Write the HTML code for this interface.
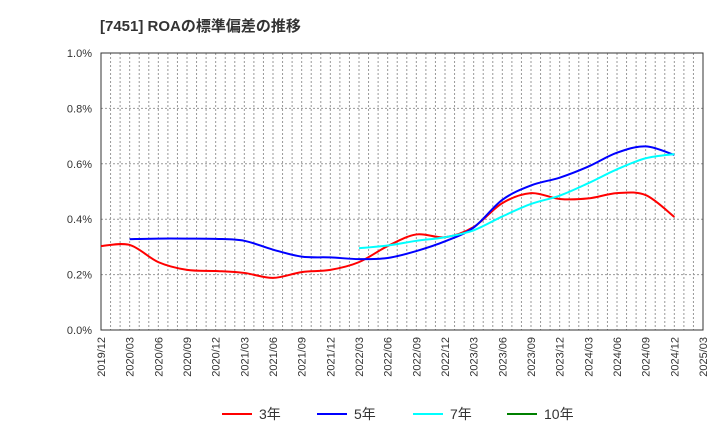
<!DOCTYPE html>
<html><head><meta charset="utf-8"><style>
body{margin:0;background:#fff;font-family:"Liberation Sans","Noto Sans CJK JP",sans-serif;}
</style></head><body>
<svg width="720" height="440" xmlns="http://www.w3.org/2000/svg">
<text x="100" y="31" font-size="15" font-weight="bold" fill="#333" font-family="Liberation Sans, Noto Sans CJK JP, sans-serif">[7451]  ROAの標準偏差の推移</text>
<g id="grid"></g><g id="axes"></g><g id="series"></g><g id="legend"></g>
</svg>
<script>
const xLabels=["2019/12","2020/03","2020/06","2020/09","2020/12","2021/03","2021/06","2021/09","2021/12","2022/03","2022/06","2022/09","2022/12","2023/03","2023/06","2023/09","2023/12","2024/03","2024/06","2024/09","2024/12","2025/03"];
const yTicks=[0,0.2,0.4,0.6,0.8,1.0];
const s3=[0.303,0.307,0.245,0.217,0.213,0.206,0.188,0.209,0.217,0.245,0.303,0.345,0.335,0.372,0.458,0.494,0.473,0.475,0.494,0.487,0.408];
const s5=[null,0.328,0.33,0.33,0.329,0.322,0.29,0.265,0.262,0.256,0.26,0.285,0.32,0.37,0.47,0.522,0.55,0.59,0.64,0.663,0.632];
const s7=[null,null,null,null,null,null,null,null,null,0.295,0.305,0.322,0.335,0.36,0.41,0.455,0.485,0.53,0.58,0.62,0.635];
const s10=[];
const X0=101,X1=703,Y0=330,Y1=53;
const xs=i=>X0+(X1-X0)*i/21;
const ys=v=>Y0-(Y0-Y1)*v/1.0;
const NS="http://www.w3.org/2000/svg";
function mk(t,a,p){const e=document.createElementNS(NS,t);for(const k in a)e.setAttribute(k,a[k]);p.appendChild(e);return e;}
const grid=document.getElementById('grid'),axes=document.getElementById('axes'),ser=document.getElementById('series'),leg=document.getElementById('legend');
for(let m=1;m<63;m++){const x=X0+(X1-X0)*m/63;const l=mk('line',{x1:x,x2:x,y1:Y1,y2:Y0,stroke:'#999','stroke-dasharray':'2,2','stroke-width':1},grid);

}
yTicks.forEach(v=>{const y=ys(v);const l=mk('line',{x1:X0,x2:X1,y1:y,y2:y,stroke:'#999','stroke-dasharray':'2,2'},grid);


const t=mk('text',{x:92,y:y+4,'text-anchor':'end','font-size':11,fill:'#333'},axes);t.textContent=v.toFixed(1)+'%';

});
const fr=mk('rect',{x:X0,y:Y1,width:X1-X0,height:Y0-Y1,fill:'none',stroke:'#333'},axes);


xLabels.forEach((s,i)=>{const x=xs(i);const t=mk('text',{x:x+4,y:337,'text-anchor':'end','font-size':11,fill:'#333',transform:`rotate(-90 ${x+4} 337)`},axes);t.textContent=s;

});
function path(arr){const p=[];arr.forEach((v,i)=>{if(v!=null)p.push([xs(i),ys(v)]);});if(p.length<2)return '';
let d=`M${p[0][0]},${p[0][1]}`;for(let i=0;i<p.length-1;i++){const a=p[i-1]||p[i],b=p[i],c=p[i+1],e=p[i+2]||c;
d+=` C${b[0]+(c[0]-a[0])/6},${b[1]+(c[1]-a[1])/6} ${c[0]-(e[0]-b[0])/6},${c[1]-(e[1]-b[1])/6} ${c[0]},${c[1]}`;}return d;}
[[s3,'#ff0000','series-3y','3年'],[s5,'#0000ff','series-5y','5年'],[s7,'#00ffff','series-7y','7年'],[s10,'#008000','series-10y','10年']].forEach((s,k)=>{
const d=path(s[0]);if(d){const pe=mk('path',{d:d,fill:'none',stroke:s[1],'stroke-width':2},ser);

}
const lx=[222,317,413,507][k];
const g=mk('g',{},leg);


mk('line',{x1:lx,x2:lx+30,y1:414,y2:414,stroke:s[1],'stroke-width':2},g);
const t=mk('text',{x:lx+37,y:419,'font-size':14,fill:'#333'},g);t.textContent=s[3];});
</script>
</body></html>
